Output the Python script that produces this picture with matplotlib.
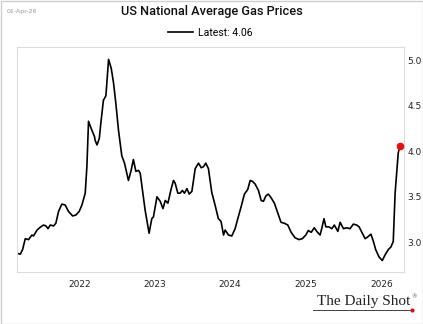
import numpy as np
import pandas as pd
import matplotlib.pyplot as plt
import matplotlib.dates as mdates
from matplotlib.patches import Rectangle

# ── Weekly US regular gasoline, national average ($/gal) ─────────────────────
dates = [
    "2021-03-06", "2021-03-22", "2021-04-02", "2021-04-15", "2021-05-01",
    "2021-05-17", "2021-05-25", "2021-06-11", "2021-06-26", "2021-07-12",
    "2021-07-24", "2021-08-03", "2021-08-14", "2021-08-30", "2021-09-10",
    "2021-09-23", "2021-10-09", "2021-10-25", "2021-11-10", "2021-11-30",
    "2021-12-16", "2022-01-01", "2022-01-14", "2022-01-30", "2022-02-07",
    "2022-02-15", "2022-02-28", "2022-03-16", "2022-03-19", "2022-03-28",
    "2022-04-08", "2022-04-17", "2022-04-28", "2022-05-10", "2022-05-23",
    "2022-06-05", "2022-06-16", "2022-06-27", "2022-07-10", "2022-07-26",
    "2022-08-08", "2022-08-27", "2022-09-09", "2022-09-20", "2022-10-02",
    "2022-10-15", "2022-10-23", "2022-11-03", "2022-11-16", "2022-12-05",
    "2022-12-18", "2022-12-26", "2023-01-12", "2023-01-28", "2023-02-10",
    "2023-02-21", "2023-03-06", "2023-03-22", "2023-04-02", "2023-04-10",
    "2023-04-23", "2023-05-04", "2023-05-15", "2023-05-25", "2023-06-06",
    "2023-06-17", "2023-06-30", "2023-07-16", "2023-08-01", "2023-08-14",
    "2023-08-25", "2023-09-05", "2023-09-18", "2023-10-04", "2023-10-20",
    "2023-11-05", "2023-11-18", "2023-11-30", "2023-12-08", "2023-12-24",
    "2024-01-09", "2024-01-25", "2024-02-07", "2024-02-23", "2024-03-10",
    "2024-03-26", "2024-04-07", "2024-04-18", "2024-05-01", "2024-05-17",
    "2024-05-30", "2024-06-10", "2024-06-22", "2024-07-04", "2024-07-17",
    "2024-08-02", "2024-08-19", "2024-09-03", "2024-09-19", "2024-10-06",
    "2024-10-22", "2024-11-10", "2024-11-29", "2024-12-15", "2025-01-01",
    "2025-01-13", "2025-01-27", "2025-02-11", "2025-02-23", "2025-03-11",
    "2025-03-19", "2025-03-30", "2025-04-08", "2025-04-23", "2025-05-07",
    "2025-05-19", "2025-06-05", "2025-06-16", "2025-07-02", "2025-07-18",
    "2025-08-03", "2025-08-19", "2025-09-04", "2025-09-16", "2025-09-29",
    "2025-10-15", "2025-10-28", "2025-11-12", "2025-11-24", "2025-12-05",
    "2025-12-21", "2026-01-06", "2026-01-19", "2026-02-04", "2026-02-17",
    "2026-02-28", "2026-03-09", "2026-03-17", "2026-03-24", "2026-04-01",
]
prices = [
    2.88, 2.87, 2.92, 3.04, 3.03,
    3.08, 3.07, 3.135, 3.165, 3.19,
    3.18, 3.15, 3.19, 3.18, 3.21,
    3.34, 3.42, 3.41, 3.34, 3.29,
    3.30, 3.34, 3.41, 3.54, 3.83,
    4.33, 4.25, 4.16, 4.12, 4.07,
    4.14, 4.34, 4.56, 4.61, 5.01,
    4.91, 4.75, 4.53, 4.23, 3.95,
    3.87, 3.68, 3.79, 3.91, 3.78,
    3.79, 3.76, 3.57, 3.35, 3.10,
    3.26, 3.28, 3.50, 3.45, 3.37,
    3.46, 3.43, 3.59, 3.68, 3.65,
    3.54, 3.54, 3.57, 3.54, 3.59,
    3.53, 3.56, 3.81, 3.87, 3.82,
    3.83, 3.87, 3.81, 3.55, 3.41,
    3.26, 3.23, 3.08, 3.135, 3.08,
    3.07, 3.15, 3.26, 3.39, 3.53,
    3.58, 3.68, 3.67, 3.64, 3.57,
    3.46, 3.45, 3.51, 3.53, 3.49,
    3.43, 3.32, 3.22, 3.21, 3.19,
    3.11, 3.05, 3.03, 3.04, 3.08,
    3.13, 3.11, 3.16, 3.12, 3.08,
    3.15, 3.26, 3.17, 3.17, 3.15,
    3.19, 3.12, 3.22, 3.15, 3.16,
    3.15, 3.20, 3.19, 3.17, 3.11,
    3.04, 3.06, 3.09, 3.01, 2.92,
    2.84, 2.80, 2.86, 2.92, 2.95,
    3.01, 3.54, 3.78, 3.98, 4.06,
]
as_of = "01-Apr-26"
yticks = [3.0, 3.5, 4.0, 4.5, 5.0]

s = pd.Series(prices, index=pd.to_datetime(dates))

# ── Figure ───────────────────────────────────────────────────────────────────
fig = plt.figure(figsize=(4.23, 3.24), dpi=100)
ax = fig.add_axes([17 / 423, 1 - 272 / 324, 387 / 423, 225 / 324])

ax.plot(s.index, s.values, color='black', lw=1.2, label=f'Latest: {prices[-1]:.2f}')
ax.plot(s.index[-1], s.values[-1], 'o', color='#e8100e', ms=4.5, zorder=5)

ax.set_xlim(pd.Timestamp("2021-03-06"), pd.Timestamp("2026-04-21"))
ax.set_ylim(2.674, 5.146)

ax.yaxis.tick_right()
ax.set_yticks(yticks)
ax.yaxis.set_major_formatter(plt.FormatStrFormatter('%.1f'))
ax.xaxis.set_major_locator(mdates.YearLocator())
ax.xaxis.set_major_formatter(mdates.DateFormatter('%Y'))
ax.tick_params(axis='both', length=0, labelsize=6.5, colors='#222222')
ax.tick_params(axis='y', pad=2.5)
ax.tick_params(axis='x', pad=6)
for sp in ax.spines.values():
    sp.set_color('#dcdcdc')
    sp.set_linewidth(0.8)

# title, legend, date stamp
fig.text(0.5, 1 - 12 / 324, 'US National Average Gas Prices', ha='center', va='center',
         fontsize=9.2, family='Roboto', fontweight='medium', color='#111111')
fig.legend(loc='center', bbox_to_anchor=(0.497, 1 - 33 / 324), frameon=False,
           prop={'family': 'Roboto', 'size': 7.6}, handlelength=2.4, handletextpad=0.5)
fig.text(7 / 423, 1 - 12 / 324, as_of, ha='left', va='center', fontsize=4.5, color='#999999')

# brand mark bottom right
fig.text(410 / 423, 1 - 302 / 324, 'The Daily Shot', ha='right', va='center',
         fontsize=11, family='Liberation Serif', color='#222222')
fig.text(411 / 423, 1 - 297 / 324, '®', ha='left', va='center', fontsize=4, color='#555555')
fig.add_artist(plt.Line2D([313 / 423, 410 / 423], [1 - 310 / 324] * 2,
                          color='#222222', lw=0.6))
fig.add_artist(plt.Line2D([411.5 / 423], [1 - 310 / 324], marker='o', ms=2,
                          color='#d01010'))

# outer border
fig.add_artist(Rectangle((0.5 / 423, 0.5 / 324), 1 - 1 / 423, 1 - 1 / 324,
                         transform=fig.transFigure, fill=False, ec='#cfcfcf', lw=1))

fig.savefig('out.png', dpi=100)
